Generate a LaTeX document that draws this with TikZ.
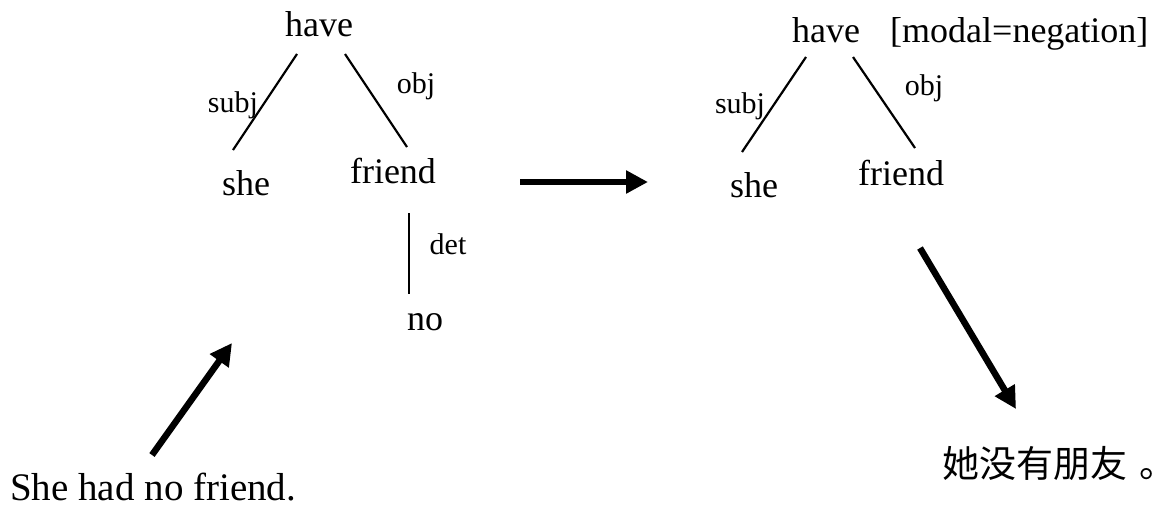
\documentclass[tikz,border=0pt]{standalone}
\usepackage{fontspec}
\setmainfont{Liberation Serif}
\newfontfamily\cjk{Noto Sans CJK SC}
\usetikzlibrary{arrows.meta}

\begin{document}
\begin{tikzpicture}[x=1pt,y=-1pt,
  word/.style={anchor=base,inner sep=0pt,font=\fontsize{36}{40}\selectfont},
  rel/.style={anchor=base,inner sep=0pt,font=\fontsize{30}{34}\selectfont},
  sent/.style={anchor=base west,inner sep=0pt,font=\fontsize{39}{44}\selectfont},
  dep/.style={line width=2.2pt},
  flow/.style={line width=6.5pt,-{Triangle[length=22pt,width=22pt]}},
]
\useasboundingbox (0,0) rectangle (1174,509);

% left tree: parse of the English sentence
\node[word] (lhave) at (319,36) {have};
\node[word] (lshe) at (246,195) {she};
\node[word] (lfriend) at (393,183) {friend};
\node[word] (lno) at (425,330) {no};
\node[rel] (lsubj) at (233,112) {subj};
\node[rel] (lobj) at (416,93) {obj};
\node[rel] (ldet) at (448,254) {det};

\coordinate (ls1) at (297,54);  \coordinate (ls2) at (233,150);
\coordinate (lo1) at (345,54);  \coordinate (lo2) at (407,147);
\coordinate (ld1) at (409,213); \coordinate (ld2) at (409,294);
\draw[dep] (ls1) -- (ls2);
\draw[dep] (lo1) -- (lo2);
\draw[dep] (ld1) -- (ld2);

% right tree: transformed structure
\node[word] (rhave) at (826,42) {have};
\node[word,anchor=base west] (rmodal) at (890,42) {[modal=negation]};
\node[word] (rshe) at (754,197) {she};
\node[word] (rfriend) at (901,185) {friend};
\node[rel] (rsubj) at (740,113) {subj};
\node[rel] (robj) at (924,95) {obj};

\coordinate (rs1) at (806,57); \coordinate (rs2) at (742,152);
\coordinate (ro1) at (853,57); \coordinate (ro2) at (915,148);
\draw[dep] (rs1) -- (rs2);
\draw[dep] (ro1) -- (ro2);

% source and target sentences
\node[sent] (src) at (10,500) {She had no friend.};
\node[anchor=base west,inner sep=0pt,font=\cjk\fontsize{37}{42}\selectfont] (tgt) at (942,477) {她没有朋友\hspace{12pt}\makebox[22pt][l]{。}};

% processing arrows
\coordinate (a1) at (152,455); \coordinate (a2) at (232,343);
\coordinate (b1) at (520,182); \coordinate (b2) at (648,182);
\coordinate (c1) at (920,248); \coordinate (c2) at (1016,409);
\draw[flow] (a1) -- (a2);
\draw[flow] (b1) -- (b2);
\draw[flow] (c1) -- (c2);
\end{tikzpicture}
\end{document}
